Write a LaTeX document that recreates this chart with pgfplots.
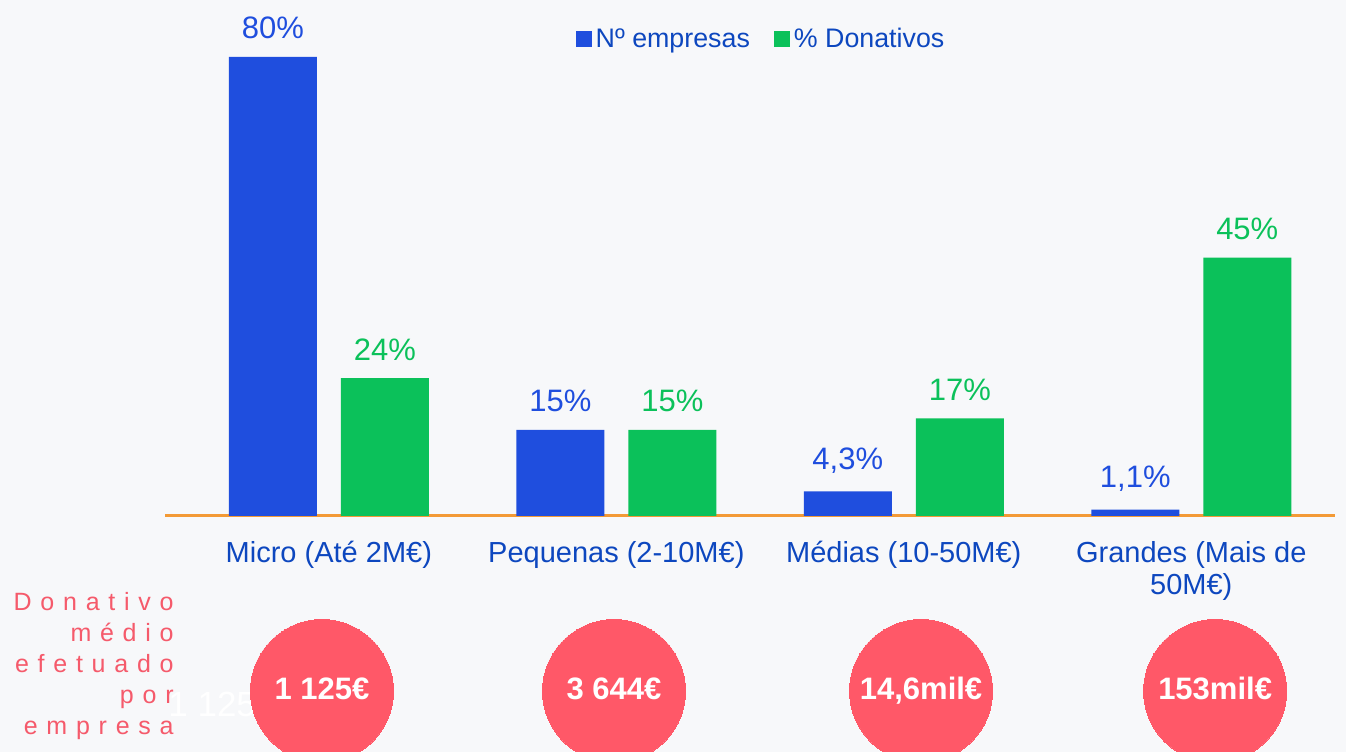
\documentclass[border=0pt]{standalone}
\usepackage{pgfplots}
\pgfplotsset{compat=1.18}
\usepackage{fontspec}
\setmainfont{Liberation Sans}
\newfontfamily\spaced[LetterSpace=35]{Liberation Sans}
\definecolor{bg}{HTML}{F7F8FA}
\definecolor{barblue}{HTML}{1F4EDE}
\definecolor{bargreen}{HTML}{0BC15A}
\definecolor{catblue}{HTML}{0D47BF}
\definecolor{orangeline}{HTML}{F39A36}
\definecolor{circ}{HTML}{FF5868}
\definecolor{pinktext}{HTML}{F55A6B}
\begin{document}
\begin{tikzpicture}
\useasboundingbox (0,0) rectangle (673bp,376bp);
\clip (0,0) rectangle (673bp,376bp);
\fill[bg] (0,0) rectangle (673bp,376bp);
\node[anchor=west, text=white, font=\fontsize{17.5bp}{20bp}\selectfont, inner sep=0pt] at (84bp,24bp) {1 125};
\node[anchor=east, align=right, text=pinktext, inner sep=0pt, font=\fontsize{12.5bp}{15.5bp}\spaced] at (87bp,43bp) {Donativo\\médio\\efetuado\\por\\empresa};
\begin{axis}[
  at={(82.5bp,118bp)}, anchor=south west,
  scale only axis, width=585bp, height=258.3bp,
  xmin=-0.57, xmax=3.5, ymin=0, ymax=90,
  hide y axis,
  axis x line*=bottom,
  x axis line style={draw=orangeline, line width=1.5bp, -},
  clip=false,
  ybar, bar width=44bp,
  xtick={0,1,2,3},
  xticklabels={Micro (Até 2M€), Pequenas (2-10M€), Médias (10-50M€), {Grandes (Mais de\\50M€)}},
  major tick length=0pt,
  xticklabel style={font=\fontsize{14.5bp}{16bp}\selectfont, text=catblue, align=center, yshift=-9bp},
  legend style={at={(0.5103,0.923)}, anchor=center, draw=none, fill=none,
    legend columns=2, font=\fontsize{13.4bp}{15bp}\selectfont, text=catblue,
    /tikz/every even column/.append style={column sep=10bp}},
  legend image code/.code={\fill[#1] (0bp,-4bp) rectangle (8bp,4bp);},
  point meta=explicit symbolic,
  nodes near coords,
]
\addplot[fill=barblue, draw=none, bar shift=-28bp,
  every node near coord/.append style={text=barblue, font=\fontsize{15.5bp}{17bp}\selectfont, yshift=5.5bp}]
  coordinates {(0,80)[80\%] (1,15)[15\%] (2,4.3)[4,3\%] (3,1.1)[1,1\%]};
\addlegendentry{Nº empresas}
\addplot[fill=bargreen, draw=none, bar shift=28bp,
  every node near coord/.append style={text=bargreen, font=\fontsize{15.5bp}{17bp}\selectfont, yshift=5.5bp}]
  coordinates {(0,24)[24\%] (1,15)[15\%] (2,17)[17\%] (3,45)[45\%]};
\addlegendentry{\% Donativos}
\addplot[forget plot, only marks, color=circ, mark=*, mark size=35.75bp,
  mark options={fill=circ, draw=circ, line width=0pt},
  every node near coord/.style={anchor=mid, yshift=-1.5bp, text=white, font=\fontsize{15.5bp}{17bp}\bfseries}]
  coordinates {(-0.024,-30.5)[1 125€] (0.992,-30.5)[3 644€] (2.06,-30.5)[14,6mil€] (3.083,-30.5)[153mil€]};
\end{axis}
\end{tikzpicture}
\end{document}
